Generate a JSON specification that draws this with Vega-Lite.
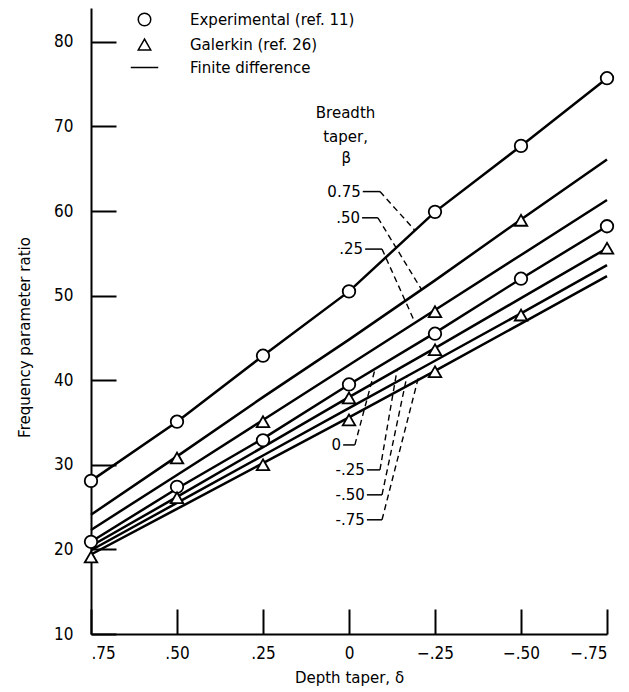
{
  "$schema": "https://vega.github.io/schema/vega-lite/v6.json",
  "width": 516,
  "height": 626,
  "autosize": {"type": "none"},
  "padding": {"left": 91, "top": 8, "right": 22, "bottom": 58},
  "background": "white",
  "config": {
    "view": {"stroke": null},
    "font": "DejaVu Sans, sans-serif",
    "axis": {
      "grid": false,
      "domainColor": "black",
      "domainWidth": 2,
      "tickColor": "black",
      "tickWidth": 2,
      "tickSize": -25,
      "labelColor": "black",
      "labelFont": "DejaVu Sans Condensed, DejaVu Sans, sans-serif",
      "labelFontSize": 17,
      "titleColor": "black",
      "titleFont": "DejaVu Sans, sans-serif",
      "titleFontSize": 15,
      "titleFontWeight": "normal"
    },
    "text": {"font": "DejaVu Sans, sans-serif", "fontSize": 15, "color": "black"}
  },
  "datasets": {
    "finiteDifference": [
      {"beta": 0.75, "delta": 0.75, "ratio": 28.1},
      {"beta": 0.75, "delta": 0.5, "ratio": 35.1},
      {"beta": 0.75, "delta": 0.25, "ratio": 42.9},
      {"beta": 0.75, "delta": 0, "ratio": 50.5},
      {"beta": 0.75, "delta": -0.25, "ratio": 59.9},
      {"beta": 0.75, "delta": -0.5, "ratio": 67.7},
      {"beta": 0.75, "delta": -0.75, "ratio": 75.7},
      {"beta": 0.5, "delta": 0.75, "ratio": 24.1},
      {"beta": 0.5, "delta": 0.5, "ratio": 31.0},
      {"beta": 0.5, "delta": 0.25, "ratio": 38.0},
      {"beta": 0.5, "delta": 0, "ratio": 44.8},
      {"beta": 0.5, "delta": -0.25, "ratio": 51.8},
      {"beta": 0.5, "delta": -0.5, "ratio": 59.0},
      {"beta": 0.5, "delta": -0.75, "ratio": 66.1},
      {"beta": 0.25, "delta": 0.75, "ratio": 22.3},
      {"beta": 0.25, "delta": 0.5, "ratio": 28.8},
      {"beta": 0.25, "delta": 0.25, "ratio": 35.3},
      {"beta": 0.25, "delta": 0, "ratio": 41.8},
      {"beta": 0.25, "delta": -0.25, "ratio": 48.3},
      {"beta": 0.25, "delta": -0.5, "ratio": 54.8},
      {"beta": 0.25, "delta": -0.75, "ratio": 61.3},
      {"beta": 0, "delta": 0.75, "ratio": 20.9},
      {"beta": 0, "delta": 0.5, "ratio": 27.2},
      {"beta": 0, "delta": 0.25, "ratio": 33.1},
      {"beta": 0, "delta": 0, "ratio": 39.5},
      {"beta": 0, "delta": -0.25, "ratio": 45.6},
      {"beta": 0, "delta": -0.5, "ratio": 52.0},
      {"beta": 0, "delta": -0.75, "ratio": 58.2},
      {"beta": -0.25, "delta": 0.75, "ratio": 20.4},
      {"beta": -0.25, "delta": 0.5, "ratio": 26.2},
      {"beta": -0.25, "delta": 0.25, "ratio": 32.1},
      {"beta": -0.25, "delta": 0, "ratio": 38.0},
      {"beta": -0.25, "delta": -0.25, "ratio": 43.8},
      {"beta": -0.25, "delta": -0.5, "ratio": 49.7},
      {"beta": -0.25, "delta": -0.75, "ratio": 55.6},
      {"beta": -0.5, "delta": 0.75, "ratio": 19.9},
      {"beta": -0.5, "delta": 0.5, "ratio": 25.5},
      {"beta": -0.5, "delta": 0.25, "ratio": 31.1},
      {"beta": -0.5, "delta": 0, "ratio": 36.7},
      {"beta": -0.5, "delta": -0.25, "ratio": 42.3},
      {"beta": -0.5, "delta": -0.5, "ratio": 47.9},
      {"beta": -0.5, "delta": -0.75, "ratio": 53.6},
      {"beta": -0.75, "delta": 0.75, "ratio": 19.4},
      {"beta": -0.75, "delta": 0.5, "ratio": 24.8},
      {"beta": -0.75, "delta": 0.25, "ratio": 30.2},
      {"beta": -0.75, "delta": 0, "ratio": 35.6},
      {"beta": -0.75, "delta": -0.25, "ratio": 41.1},
      {"beta": -0.75, "delta": -0.5, "ratio": 46.7},
      {"beta": -0.75, "delta": -0.75, "ratio": 52.3}
    ],
    "measured": [
      {"method": "Experimental (ref. 11)", "delta": 0.75, "ratio": 28.1},
      {"method": "Experimental (ref. 11)", "delta": 0.5, "ratio": 35.1},
      {"method": "Experimental (ref. 11)", "delta": 0.25, "ratio": 42.9},
      {"method": "Experimental (ref. 11)", "delta": 0, "ratio": 50.5},
      {"method": "Experimental (ref. 11)", "delta": -0.25, "ratio": 59.9},
      {"method": "Experimental (ref. 11)", "delta": -0.5, "ratio": 67.7},
      {"method": "Experimental (ref. 11)", "delta": -0.75, "ratio": 75.7},
      {"method": "Experimental (ref. 11)", "delta": 0.75, "ratio": 20.9},
      {"method": "Experimental (ref. 11)", "delta": 0.5, "ratio": 27.4},
      {"method": "Experimental (ref. 11)", "delta": 0.25, "ratio": 32.9},
      {"method": "Experimental (ref. 11)", "delta": 0, "ratio": 39.5},
      {"method": "Experimental (ref. 11)", "delta": -0.25, "ratio": 45.5},
      {"method": "Experimental (ref. 11)", "delta": -0.5, "ratio": 52.0},
      {"method": "Experimental (ref. 11)", "delta": -0.75, "ratio": 58.2},
      {"method": "Galerkin (ref. 26)", "delta": 0.75, "ratio": 19.1},
      {"method": "Galerkin (ref. 26)", "delta": 0.5, "ratio": 30.8},
      {"method": "Galerkin (ref. 26)", "delta": 0.5, "ratio": 26.1},
      {"method": "Galerkin (ref. 26)", "delta": 0.25, "ratio": 35.1},
      {"method": "Galerkin (ref. 26)", "delta": 0.25, "ratio": 30.0},
      {"method": "Galerkin (ref. 26)", "delta": 0, "ratio": 37.9},
      {"method": "Galerkin (ref. 26)", "delta": 0, "ratio": 35.3},
      {"method": "Galerkin (ref. 26)", "delta": -0.25, "ratio": 48.1},
      {"method": "Galerkin (ref. 26)", "delta": -0.25, "ratio": 43.6},
      {"method": "Galerkin (ref. 26)", "delta": -0.25, "ratio": 41.0},
      {"method": "Galerkin (ref. 26)", "delta": -0.5, "ratio": 58.9},
      {"method": "Galerkin (ref. 26)", "delta": -0.5, "ratio": 47.7},
      {"method": "Galerkin (ref. 26)", "delta": -0.75, "ratio": 55.6}
    ],
    "callouts": [
      {"label": "0.75", "x0": -0.040, "x1": -0.090, "yl": 62.3, "xt": -0.192, "yt": 57.7},
      {"label": ".50", "x0": -0.038, "x1": -0.084, "yl": 59.2, "xt": -0.211, "yt": 50.7},
      {"label": ".25", "x0": -0.047, "x1": -0.096, "yl": 55.5, "xt": -0.192, "yt": 46.8},
      {"label": "0", "x0": 0.017, "x1": -0.017, "yl": 32.35, "xt": -0.076, "yt": 41.35},
      {"label": "-.25", "x0": -0.052, "x1": -0.090, "yl": 29.4, "xt": -0.140, "yt": 41.3},
      {"label": "-.50", "x0": -0.052, "x1": -0.096, "yl": 26.45, "xt": -0.169, "yt": 40.6},
      {"label": "-.75", "x0": -0.052, "x1": -0.096, "yl": 23.5, "xt": -0.201, "yt": 40.2}
    ],
    "heading": [
      {"text": "Breadth", "delta": 0.010, "ratio": 71.6},
      {"text": "taper,", "delta": 0.010, "ratio": 68.8},
      {"text": "β", "delta": 0.008, "ratio": 66.3}
    ]
  },
  "layer": [
    {
      "data": {"name": "finiteDifference"},
      "mark": {"type": "line", "color": "black", "strokeWidth": 2.5},
      "encoding": {
        "x": {
          "field": "delta", "type": "quantitative", "title": "Depth taper, δ",
          "scale": {"domain": [-0.75, 0.75], "reverse": true, "nice": false, "zero": false},
          "axis": {
            "values": [0.75, 0.5, 0.25, 0, -0.25, -0.5, -0.75],
            "labelExpr": "datum.value == 0 ? '0' : replace(format(datum.value, '.2f'), '0.', '.')",
            "labelPadding": 36,
            "titlePadding": 9
          }
        },
        "y": {
          "field": "ratio", "type": "quantitative", "title": "Frequency parameter ratio",
          "scale": {"domain": [10, 84], "nice": false, "zero": false},
          "axis": {
            "values": [10, 20, 30, 40, 50, 60, 70, 80],
            "labelPadding": 43,
            "titlePadding": 21,
            "titleY": 329
          }
        },
        "detail": {"field": "beta", "type": "nominal"}
      }
    },
    {
      "data": {"name": "measured"},
      "mark": {"type": "point", "filled": true, "fill": "white", "stroke": "black", "strokeWidth": 1.8, "size": 156, "opacity": 1},
      "encoding": {
        "x": {"field": "delta", "type": "quantitative", "title": "Depth taper, δ", "scale": {"domain": [-0.75, 0.75], "reverse": true, "nice": false, "zero": false}},
        "y": {"field": "ratio", "type": "quantitative", "title": "Frequency parameter ratio", "scale": {"domain": [10, 84], "nice": false, "zero": false}},
        "shape": {
          "field": "method", "type": "nominal",
          "scale": {
            "domain": ["Experimental (ref. 11)", "Galerkin (ref. 26)", "Finite difference"],
            "range": ["circle", "triangle-up", "M-2.2,0H2.2"]
          },
          "legend": {
            "orient": "none",
            "legendX": 46,
            "legendY": 4,
            "title": null,
            "labelFont": "DejaVu Sans, sans-serif",
            "labelFontSize": 15,
            "labelColor": "black",
            "labelLimit": 400,
            "labelOffset": 38,
            "rowPadding": 7,
            "symbolSize": 156,
            "encode": {
              "symbols": {
                "update": {
                  "fill": {"value": "white"},
                  "fillOpacity": {"value": 1},
                  "stroke": {"value": "black"},
                  "strokeOpacity": {"value": 1},
                  "strokeWidth": {"value": 2},
                  "opacity": {"value": 1}
                }
              }
            }
          }
        }
      }
    },
    {
      "data": {"name": "callouts"},
      "mark": {"type": "rule", "color": "black", "strokeWidth": 1.5},
      "encoding": {
        "x": {"field": "x0", "type": "quantitative", "title": "Depth taper, δ", "scale": {"domain": [-0.75, 0.75], "reverse": true, "nice": false, "zero": false}},
        "x2": {"field": "x1"},
        "y": {"field": "yl", "type": "quantitative", "title": "Frequency parameter ratio", "scale": {"domain": [10, 84], "nice": false, "zero": false}}
      }
    },
    {
      "data": {"name": "callouts"},
      "mark": {"type": "rule", "color": "black", "strokeWidth": 1.4, "strokeDash": [6, 4]},
      "encoding": {
        "x": {"field": "x1", "type": "quantitative", "title": "Depth taper, δ", "scale": {"domain": [-0.75, 0.75], "reverse": true, "nice": false, "zero": false}},
        "x2": {"field": "xt"},
        "y": {"field": "yl", "type": "quantitative", "title": "Frequency parameter ratio", "scale": {"domain": [10, 84], "nice": false, "zero": false}},
        "y2": {"field": "yt"}
      }
    },
    {
      "data": {"name": "callouts"},
      "mark": {"type": "text", "align": "right", "baseline": "middle", "dx": -2, "fontSize": 15},
      "encoding": {
        "x": {"field": "x0", "type": "quantitative", "title": "Depth taper, δ", "scale": {"domain": [-0.75, 0.75], "reverse": true, "nice": false, "zero": false}},
        "y": {"field": "yl", "type": "quantitative", "title": "Frequency parameter ratio", "scale": {"domain": [10, 84], "nice": false, "zero": false}},
        "text": {"field": "label"}
      }
    },
    {
      "data": {"name": "heading"},
      "mark": {"type": "text", "align": "center", "baseline": "middle", "fontSize": 15},
      "encoding": {
        "x": {"field": "delta", "type": "quantitative", "title": "Depth taper, δ", "scale": {"domain": [-0.75, 0.75], "reverse": true, "nice": false, "zero": false}},
        "y": {"field": "ratio", "type": "quantitative", "title": "Frequency parameter ratio", "scale": {"domain": [10, 84], "nice": false, "zero": false}},
        "text": {"field": "text"}
      }
    }
  ]
}
